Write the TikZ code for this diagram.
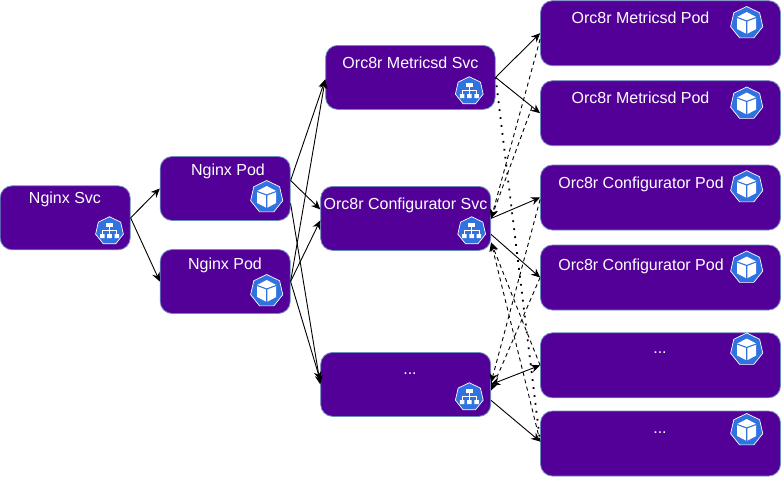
\documentclass[tikz,border=0pt]{standalone}
\usepackage{fontspec}
\setmainfont{Liberation Sans}
\usetikzlibrary{arrows.meta,shapes.geometric}
\definecolor{boxfill}{HTML}{530099}
\definecolor{boxline}{HTML}{6C8EBF}
\definecolor{kubeblue}{HTML}{2F72E0}
\tikzset{
  box/.style={
    draw=boxline,
    fill=boxfill,
    rounded corners=12pt,
    line width=0.8pt,
    inner sep=0pt,
    minimum height=64pt,
  },
  svc box/.style={box,minimum width=170pt},
  small box/.style={box,minimum width=130pt},
  pod box/.style={box,minimum width=240pt,minimum height=65pt},
  boxtext/.style={text=white,inner sep=0pt,font=\fontsize{16}{18}\selectfont},
  flow/.style={draw=black,line width=0.9pt,-{Stealth[length=9pt,width=8pt]}},
  both/.style={draw=black,line width=0.9pt,{Stealth[length=9pt,width=8pt]}-{Stealth[length=9pt,width=8pt]}},
  back/.style={flow,dash pattern=on 4pt off 3.5pt},
  dots/.style={draw=black,line width=1.8pt,dash pattern=on 1.8pt off 6.2pt},
  hept/.style={
    regular polygon,
    regular polygon sides=7,
    fill=kubeblue,
    draw=white,
    line width=0.7pt,
    inner sep=0pt,
  },
  pics/podicon/.style={
    code={
      \node[hept,minimum size=33pt] (-shape) at (0,0) {};
      \fill[white] (0,-11) -- (9.5,-6) -- (9.5,6) -- (0,11) -- (-9.5,6) -- (-9.5,-6) -- cycle;
      \draw[kubeblue,line width=1.1pt] (-9.5,-5.5) -- (0,-2) -- (9.5,-5.5) (0,-2) -- (0,11.5);
    }
  },
  pics/svcicon/.style={
    code={
      \node[hept,minimum size=28.5pt] (-shape) at (0,0) {};
      \fill[white] (-3.5,-8) rectangle (3.5,-4);
      \fill[white] (-9.5,3) rectangle (-5,7) (-2.3,3) rectangle (2.3,7) (5,3) rectangle (9.5,7);
      \draw[white,line width=0.7pt] (0,-4) -- (0,3) (-7.2,3) -- (-7.2,-0.5) -- (7.2,-0.5) -- (7.2,3);
    }
  },
}

\begin{document}
\begin{tikzpicture}[x=1pt,y=-1pt]
  \useasboundingbox (0,0) rectangle (781,477);

  % services and nginx pods
  \node[small box] (nginxsvc) at (65.2,217.8) {};
  \node[small box] (nginxpoda) at (225.2,188.5) {};
  \node[small box] (nginxpodb) at (225.2,281.5) {};
  \node[svc box,minimum width=169.5pt] (metricsvc) at (410.4,77.4) {};
  \node[svc box] (configsvc) at (405.7,218.4) {};
  \node[svc box] (moresvc) at (405.7,384.4) {};

  % backend pods
  \node[pod box] (metricpoda) at (660.5,33.2) {};
  \node[pod box] (metricpodb) at (660.5,113.2) {};
  \node[pod box] (configpoda) at (660.5,197.5) {};
  \node[pod box] (configpodb) at (660.5,277.5) {};
  \node[pod box] (morepoda) at (660.5,365.3) {};
  \node[pod box] (morepodb) at (660.5,443.5) {};

  \node[boxtext] (nginxsvctext) at (65,199.3) {Nginx Svc};
  \node[boxtext] (nginxpodatext) at (228,171) {Nginx Pod};
  \node[boxtext] (nginxpodbtext) at (225,265.3) {Nginx Pod};
  \node[boxtext] (metricsvctext) at (410.5,62.5) {Orc8r Metricsd Svc};
  \node[boxtext] (configsvctext) at (405.5,205.3) {Orc8r Configurator Svc};
  \node[boxtext] (moresvctext) at (410,373.3) {...};
  \node[boxtext] (metricpodatext) at (640.5,18) {Orc8r Metricsd Pod};
  \node[boxtext] (metricpodbtext) at (640.5,98) {Orc8r Metricsd Pod};
  \node[boxtext] (configpodatext) at (641,184.3) {Orc8r Configurator Pod};
  \node[boxtext] (configpodbtext) at (641,266) {Orc8r Configurator Pod};
  \node[boxtext] (morepodatext) at (660,352.3) {...};
  \node[boxtext] (morepodbtext) at (660,432.3) {...};

  \pic (nginxsvcicon) at (109.5,231) {svcicon};
  \pic (metricsvcicon) at (469.3,91) {svcicon};
  \pic (configsvcicon) at (471.7,231) {svcicon};
  \pic (moresvcicon) at (469.3,397) {svcicon};
  \pic (nginxpodaicon) at (266.7,197) {podicon};
  \pic (nginxpodbicon) at (266.7,291) {podicon};
  \pic (metricpodaicon) at (746.7,23) {podicon};
  \pic (metricpodbicon) at (746.7,103.5) {podicon};
  \pic (configpodaicon) at (746.7,187) {podicon};
  \pic (configpodbicon) at (746.7,267.5) {podicon};
  \pic (morepodaicon) at (746.7,349.5) {podicon};
  \pic (morepodbicon) at (746.7,430) {podicon};

  % nginx
  \draw[flow] (nginxsvc.east) -- ([yshift=0pt]nginxpoda.west);
  \draw[flow] (nginxsvc.east) -- (nginxpodb.west);
  \draw[flow] ([yshift=8pt]nginxpoda.east) -- ([yshift=-2pt]metricsvc.west);
  \draw[flow] ([yshift=8pt]nginxpoda.east) -- ([yshift=9pt]configsvc.west);
  \draw[flow] ([yshift=-15pt]nginxpoda.east) -- (moresvc.west);
  \draw[flow] (nginxpodb.east) -- ([yshift=-2pt]metricsvc.west);
  \draw[flow] (nginxpodb.east) -- ([yshift=-2pt]configsvc.west);
  \draw[flow] (nginxpodb.east) -- ([yshift=4pt]moresvc.west);

  % requests to the pods
  \draw[flow] (metricsvc.east) -- (metricpoda.west);
  \draw[flow] (metricsvc.east) -- (metricpodb.west);
  \draw[flow] (configsvc.east) -- (configpoda.west);
  \draw[flow] ([yshift=-16pt]configsvc.east) -- (configpodb.west);
  \draw[both] (moresvc.east) -- (morepoda.west);
  \draw[flow] ([yshift=-16pt]moresvc.east) -- ([yshift=2pt]morepodb.west);
  \draw[dots] (metricsvc.east) -- ([yshift=2pt]morepodb.west);

  % answers from the pods
  \coordinate (metricfoot) at (532,107);
  \draw[back] ([yshift=-6pt]metricpoda.west) -- (configsvc.east);
  \draw[back] (metricfoot) -- (configsvc.east);
  \draw[back] ([yshift=-2pt]configpoda.west) -- ([yshift=2pt]moresvc.east);
  \draw[back] (configpodb.west) -- ([yshift=-6pt]moresvc.east);
  \draw[back] (morepoda.west) -- ([yshift=-24pt]configsvc.east);
  \draw[back] ([yshift=2pt]morepodb.west) -- ([yshift=-24pt]configsvc.east);
\end{tikzpicture}
\end{document}
